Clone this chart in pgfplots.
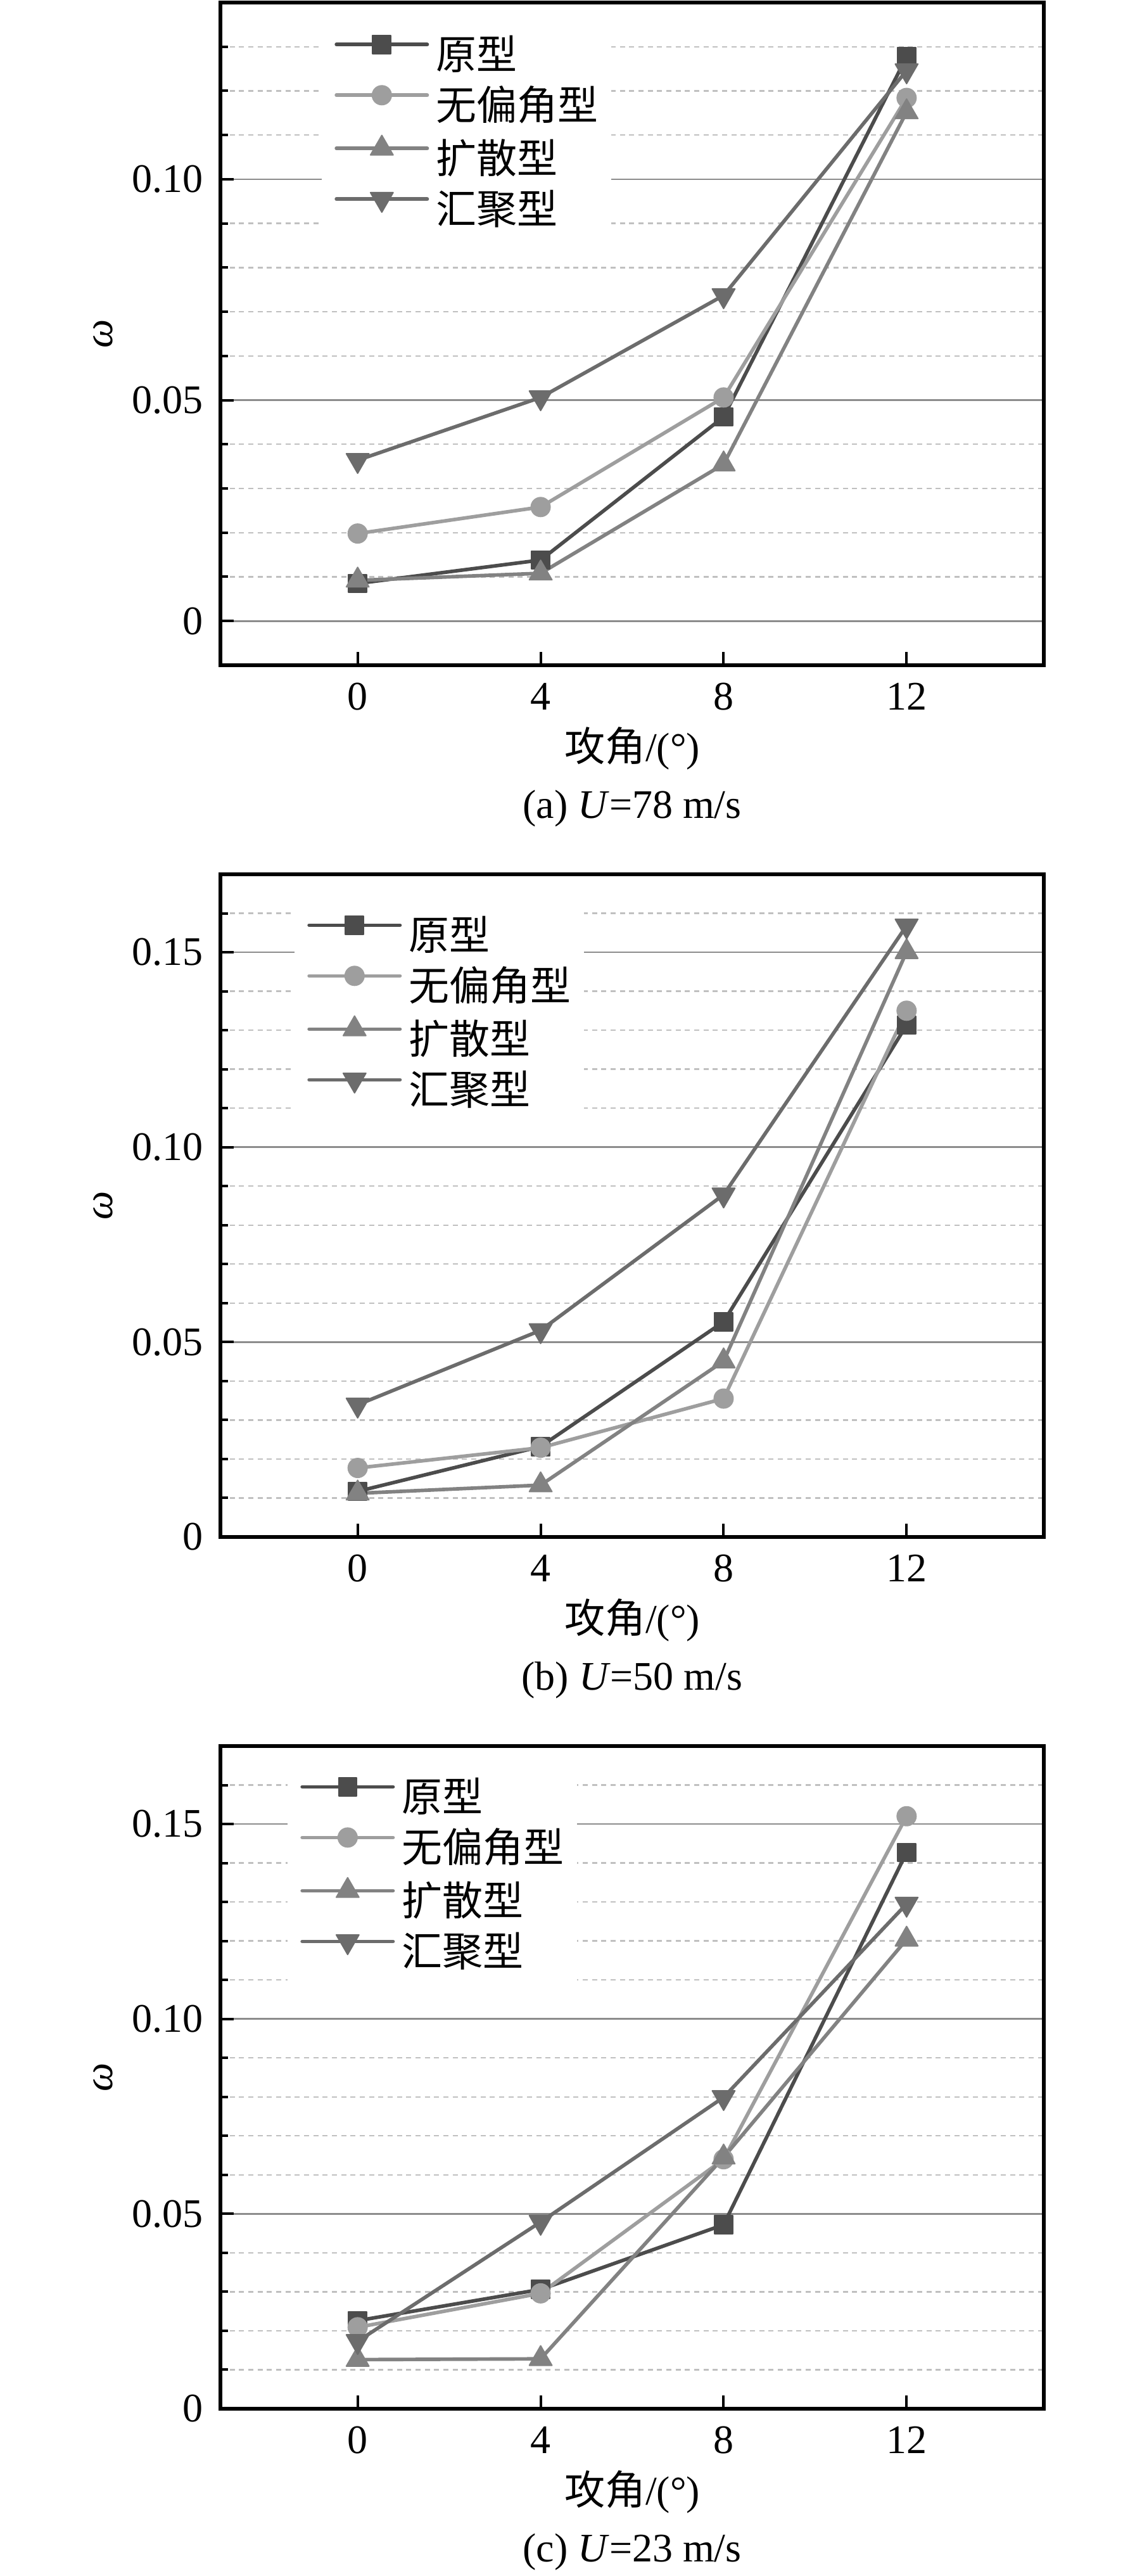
\documentclass[border=0pt]{standalone}
\usepackage{fontspec}
\setmainfont{Liberation Serif}
\newfontfamily\cjk{Noto Sans CJK SC}
\usepackage{pgfplots}
\pgfplotsset{compat=1.18}
\definecolor{cA}{HTML}{4C4C4C}
\definecolor{cB}{HTML}{9E9E9E}
\definecolor{cC}{HTML}{828282}
\definecolor{cD}{HTML}{6C6C6C}
\definecolor{gmaj}{HTML}{8C8C8C}
\definecolor{gmin}{HTML}{C0C0C0}
\pgfplotsset{
  panel/.style={
    width=195pt, height=156.9pt, scale only axis,
    xmin=-3, xmax=15, xtick={0,4,8,12},
    tick align=inside, tick pos=left,
    major tick length=3.2pt, minor tick length=1.8pt,
    every tick/.style={black, line width=0.6pt},
    axis line style={line width=0.8pt},
    ymajorgrids, yminorgrids,
    major grid style={gmaj, line width=0.4pt},
    minor grid style={gmin, line width=0.35pt, dash pattern=on 1.2pt off 1pt},
    /pgf/number format/assume math mode=true,
    xticklabel style={yshift=-0.8pt},
    yticklabel style={xshift=-0.8pt},
    xlabel={{\cjk 攻角}/(°)},
    xlabel style={at={(axis description cs:0.5,-0.1252)}, anchor=center},
    legend cell align=left,
    legend style={draw=none, fill=white, inner xsep=3pt, inner ysep=3pt,
      anchor=north west, font=\cjk,
      nodes={inner sep=0pt, text height=8.4pt, text depth=3.6pt},
      /tikz/column sep=1.7pt, row sep=0pt},
    legend image code/.code={\draw[##1, mark repeat=2, mark phase=2]
      plot coordinates {(0pt,3.5pt) (10.75pt,3.5pt) (21.5pt,3.5pt)};},
  },
  sA/.style={cA, line width=0.85pt, line cap=round, line join=round, mark=square*, mark size=2.15pt, mark options={solid, line width=0.3pt}},
  sB/.style={cB, line width=0.85pt, line cap=round, line join=round, mark=*, mark size=2.25pt, mark options={solid, line width=0.3pt}},
  sC/.style={cC, line width=0.85pt, line cap=round, line join=round, mark=triangle*, mark size=3.1pt, mark options={solid, line width=0.3pt}},
  sD/.style={cD, line width=0.85pt, line cap=round, line join=round, mark=triangle*, mark size=3.1pt, mark options={solid, rotate=180, line width=0.3pt}},
}
\begin{document}
\fontsize{9.6pt}{11.5pt}\selectfont
\begin{tikzpicture}
\path[use as bounding box] (0,0) rectangle (265.8pt,609.9pt);
% (a)
\begin{axis}[panel, name=axA, at={(52.2pt,452.4pt)}, anchor=south west,
  ymin=-0.01, ymax=0.14, ytick={0,0.05,0.1}, yticklabels={0,0.05,0.10},
  minor ytick={0.01,0.02,0.03,0.04,0.06,0.07,0.08,0.09,0.11,0.12,0.13},
  legend style={at={(axis description cs:0.1223,0.9729)}}]
\addplot[sA] coordinates {(0,0.0085)(4,0.0138)(8,0.0462)(12,0.1277)};
\addplot[sB] coordinates {(0,0.0198)(4,0.0258)(8,0.0506)(12,0.1184)};
\addplot[sC] coordinates {(0,0.0092)(4,0.0108)(8,0.0355)(12,0.1152)};
\addplot[sD] coordinates {(0,0.0364)(4,0.0506)(8,0.0737)(12,0.1246)};
\legend{原型,无偏角型,扩散型,汇聚型}
\end{axis}
\node[rotate=90, anchor=center] at ([xshift=-27.75pt]axA.west) {\textit{ω}};
\node[anchor=center] at ([yshift=-33.9pt]axA.south) {(a) \textit{U}=78 m/s};
% (b)
\begin{axis}[panel, name=axB, at={(52.2pt,246.0pt)}, anchor=south west,
  ymin=0, ymax=0.17, ytick={0,0.05,0.1,0.15}, yticklabels={0,0.05,0.10,0.15},
  minor ytick={0.01,0.02,0.03,0.04,0.06,0.07,0.08,0.09,0.11,0.12,0.13,0.14,0.16},
  legend style={at={(axis description cs:0.0892,0.9595)}}]
\addplot[sA] coordinates {(0,0.0117)(4,0.0232)(8,0.0552)(12,0.1313)};
\addplot[sB] coordinates {(0,0.0177)(4,0.0229)(8,0.0355)(12,0.1350)};
\addplot[sC] coordinates {(0,0.0112)(4,0.0133)(8,0.0451)(12,0.1501)};
\addplot[sD] coordinates {(0,0.0339)(4,0.0530)(8,0.0878)(12,0.1568)};
\legend{原型,无偏角型,扩散型,汇聚型}
\end{axis}
\node[rotate=90, anchor=center] at ([xshift=-27.75pt]axB.west) {\textit{ω}};
\node[anchor=center] at ([yshift=-33.9pt]axB.south) {(b) \textit{U}=50 m/s};
% (c)
\begin{axis}[panel, name=axC, at={(52.2pt,39.6pt)}, anchor=south west,
  ymin=0, ymax=0.17, ytick={0,0.05,0.1,0.15}, yticklabels={0,0.05,0.10,0.15},
  minor ytick={0.01,0.02,0.03,0.04,0.06,0.07,0.08,0.09,0.11,0.12,0.13,0.14,0.16},
  legend style={at={(axis description cs:0.0808,0.9748)}}]
\addplot[sA] coordinates {(0,0.0226)(4,0.0306)(8,0.0472)(12,0.1427)};
\addplot[sB] coordinates {(0,0.0209)(4,0.0296)(8,0.0640)(12,0.1520)};
\addplot[sC] coordinates {(0,0.0126)(4,0.0128)(8,0.0645)(12,0.1204)};
\addplot[sD] coordinates {(0,0.0173)(4,0.0479)(8,0.0799)(12,0.1295)};
\legend{原型,无偏角型,扩散型,汇聚型}
\end{axis}
\node[rotate=90, anchor=center] at ([xshift=-27.75pt]axC.west) {\textit{ω}};
\node[anchor=center] at ([yshift=-33.9pt]axC.south) {(c) \textit{U}=23 m/s};
\end{tikzpicture}
\end{document}
